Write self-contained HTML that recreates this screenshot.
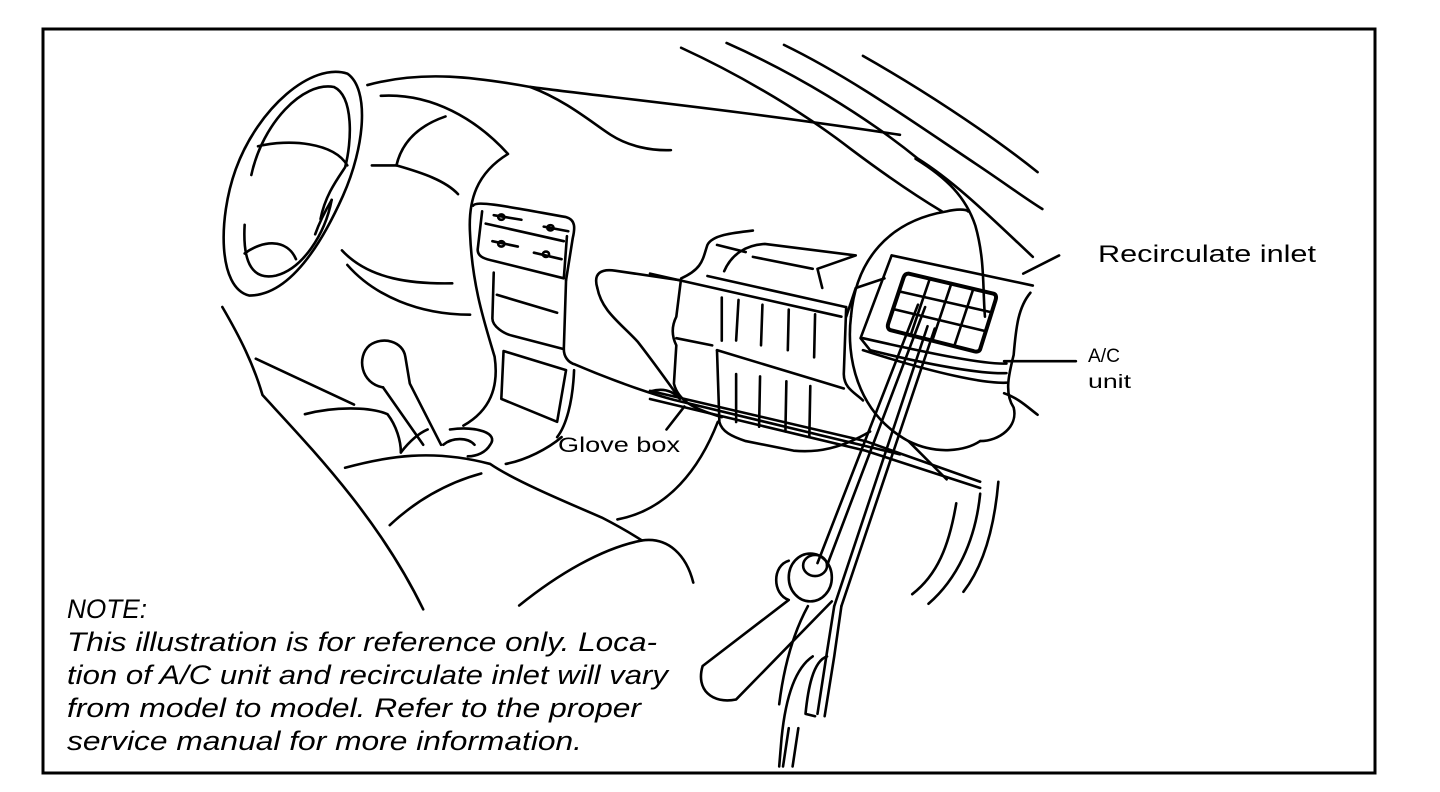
<!DOCTYPE html>
<html><head><meta charset="utf-8"><style>
html,body{margin:0;padding:0;background:#fff;}
svg{display:block;}
text{font-family:"Liberation Sans",Arial,sans-serif;fill:#000;}
</style></head><body>
<svg width="1440" height="792" viewBox="0 0 1440 792" xmlns="http://www.w3.org/2000/svg">
<rect x="0" y="0" width="1440" height="792" fill="#fff"/>
<rect x="43" y="29" width="1332" height="744" fill="none" stroke="#000" stroke-width="3"/>

<g transform="translate(200,20) scale(0.4464,0.3827)" fill="none" stroke="#000" stroke-width="2.6" stroke-linecap="round" stroke-linejoin="round">
<path vector-effect="non-scaling-stroke" d="M110,720 C40,700 40,520 80,390 C130,230 250,110 330,140 C380,180 370,330 320,460 C270,590 200,720 110,720 Z"/>
<path vector-effect="non-scaling-stroke" d="M115,405 C140,270 230,160 300,175 C345,200 340,320 325,385 C305,420 280,460 270,520"/>
<path vector-effect="non-scaling-stroke" d="M100,535 C95,640 120,680 170,668 C230,650 280,560 295,470"/>
<path vector-effect="non-scaling-stroke" d="M130,330 C200,310 300,320 330,380"/>
<path vector-effect="non-scaling-stroke" d="M100,610 C140,575 195,570 215,625"/>
<path vector-effect="non-scaling-stroke" d="M258,560 C270,520 285,490 295,470"/>
<path vector-effect="non-scaling-stroke" d="M375,170 C500,130 620,150 740,175 C900,200 1200,235 1568,300"/>
<path vector-effect="non-scaling-stroke" d="M740,175 C820,210 880,270 920,300 C960,330 1010,342 1055,340"/>
<path vector-effect="non-scaling-stroke" d="M405,198 C520,190 620,260 690,350 C620,400 600,470 605,560 C610,700 640,800 660,880 C670,960 650,1020 590,1060"/>
<path vector-effect="non-scaling-stroke" d="M550,252 C480,280 450,330 440,380"/>
<path vector-effect="non-scaling-stroke" d="M385,380 L440,380 C500,400 550,420 578,455"/>
<path vector-effect="non-scaling-stroke" d="M318,602 C380,680 480,690 565,688"/>
<path vector-effect="non-scaling-stroke" d="M330,640 C390,720 490,770 605,770"/>
<path vector-effect="non-scaling-stroke" d="M612,485 C620,470 700,490 820,515 C842,522 840,545 835,570 L820,680"/>
<path vector-effect="non-scaling-stroke" d="M632,500 L622,600 C622,620 640,625 660,630 L815,675 L822,565"/>
<path vector-effect="non-scaling-stroke" d="M640,532 L815,578"/>
<path vector-effect="non-scaling-stroke" d="M658,510 L720,522 M770,540 L825,552 M655,578 L712,592 M748,608 L810,625"/>
<circle vector-effect="non-scaling-stroke" cx="675" cy="515" r="7"/>
<circle vector-effect="non-scaling-stroke" cx="785" cy="543" r="7"/>
<circle vector-effect="non-scaling-stroke" cx="675" cy="585" r="7"/>
<circle vector-effect="non-scaling-stroke" cx="775" cy="612" r="7"/>
<path vector-effect="non-scaling-stroke" d="M658,660 L655,780 C655,800 680,820 700,825 L815,860 L820,680"/>
<path vector-effect="non-scaling-stroke" d="M665,718 L800,765"/>
<path vector-effect="non-scaling-stroke" d="M680,865 L675,990 L800,1050 L820,915 Z"/>
<path vector-effect="non-scaling-stroke" d="M838,915 C835,1000 820,1060 800,1090"/>
<path vector-effect="non-scaling-stroke" d="M815,860 C815,880 825,895 840,900 C900,930 1000,975 1070,995 L1568,1135"/>
<path vector-effect="non-scaling-stroke" d="M410,960 C360,950 350,880 380,850 C410,825 455,840 460,880 L470,950 L540,1110"/>
<path vector-effect="non-scaling-stroke" d="M410,960 L500,1110"/>
<path vector-effect="non-scaling-stroke" d="M450,1130 C470,1100 490,1080 510,1070"/>
<path vector-effect="non-scaling-stroke" d="M560,1070 C620,1060 670,1080 650,1110 C640,1130 620,1140 600,1140"/>
<path vector-effect="non-scaling-stroke" d="M545,1110 C565,1090 600,1090 615,1110"/>
<path vector-effect="non-scaling-stroke" d="M325,1170 C420,1140 520,1120 650,1160 C700,1200 800,1250 900,1300 C950,1330 990,1360 990,1360 C1050,1350 1090,1400 1105,1470"/>
<path vector-effect="non-scaling-stroke" d="M715,1530 C800,1450 900,1380 990,1360"/>
<path vector-effect="non-scaling-stroke" d="M425,1320 C480,1260 550,1210 630,1185"/>
<path vector-effect="non-scaling-stroke" d="M235,1030 C300,1010 380,1010 420,1030 C440,1060 450,1100 450,1130"/>
<path vector-effect="non-scaling-stroke" d="M125,885 L345,1005"/>
<path vector-effect="non-scaling-stroke" d="M50,750 C90,830 120,900 140,980 C250,1120 400,1300 500,1540"/>
<path vector-effect="non-scaling-stroke" d="M685,1160 C730,1150 780,1120 810,1090"/>
<path vector-effect="non-scaling-stroke" d="M1045,1070 L1085,1010"/>
<path vector-effect="non-scaling-stroke" d="M935,1305 C1050,1280 1120,1170 1160,1050"/>
<path vector-effect="non-scaling-stroke" d="M890,700 C880,660 900,650 930,655 L1075,680"/>
<path vector-effect="non-scaling-stroke" d="M890,700 C900,760 940,790 980,840 C1020,900 1050,950 1075,990"/>
<path vector-effect="non-scaling-stroke" d="M1010,970 C1040,960 1060,970 1075,990"/>
</g>

<g transform="translate(650,20) scale(0.4785)" fill="none" stroke="#000" stroke-width="2.6" stroke-linecap="round" stroke-linejoin="round">
<path vector-effect="non-scaling-stroke" d="M65,58 C200,120 330,200 420,270 C500,330 560,370 610,400"/>
<path vector-effect="non-scaling-stroke" d="M160,48 C300,110 450,200 560,290 C640,340 720,420 800,495"/>
<path vector-effect="non-scaling-stroke" d="M280,52 C420,120 560,220 680,300 C740,340 780,370 820,395"/>
<path vector-effect="non-scaling-stroke" d="M445,75 C560,140 700,230 810,318"/>
<path vector-effect="non-scaling-stroke" d="M555,290 C620,330 660,370 680,430 C700,500 695,560 700,620"/>
<path vector-effect="non-scaling-stroke" d="M420,620 C430,500 500,420 620,400 C640,395 660,395 665,400"/>
<path vector-effect="non-scaling-stroke" d="M420,620 C410,700 430,820 540,880 C600,910 660,900 690,880"/>
<path vector-effect="non-scaling-stroke" d="M795,570 C770,600 765,640 760,700 C750,740 740,780 760,810 C770,850 730,880 690,880"/>
<path vector-effect="non-scaling-stroke" d="M740,780 C770,790 790,810 810,825"/>
<path vector-effect="non-scaling-stroke" d="M855,492 L780,530"/>
<path vector-effect="non-scaling-stroke" d="M890,713 L740,713"/>
<path vector-effect="non-scaling-stroke" d="M728,965 C718,1080 690,1150 655,1195"/>
<path vector-effect="non-scaling-stroke" d="M690,990 C680,1090 640,1170 582,1220"/>
<path vector-effect="non-scaling-stroke" d="M640,1010 C625,1100 600,1160 548,1200"/>
<path vector-effect="non-scaling-stroke" d="M505,492 L800,555"/>
<path vector-effect="non-scaling-stroke" d="M505,492 L440,665 L460,690"/>
<path vector-effect="non-scaling-stroke" d="M490,540 L430,560 L410,620"/>
<path vector-effect="non-scaling-stroke" d="M540,530 L718,572 C724,574 724,580 722,586 L690,688 C688,693 682,694 676,692 L502,648 C497,646 496,640 498,634 L530,538 C532,532 536,530 540,530 Z" stroke-width="4"/>
<path vector-effect="non-scaling-stroke" d="M524,568 L710,610 M512,605 L700,650"/>
<path vector-effect="non-scaling-stroke" d="M585,540 L545,658 M630,550 L590,670 M676,561 L636,681"/>
<path vector-effect="non-scaling-stroke" d="M445,665 C600,700 700,720 745,718"/>
<path vector-effect="non-scaling-stroke" d="M445,690 C600,740 700,760 745,758"/>
<path vector-effect="non-scaling-stroke" d="M460,690 C600,725 700,740 745,738"/>
<path vector-effect="non-scaling-stroke" d="M215,440 C170,445 130,450 120,470 C110,500 110,520 65,540 L55,620 C45,640 45,660 55,680 L50,760 C60,800 100,815 150,830"/>
<path vector-effect="non-scaling-stroke" d="M140,470 L200,485"/>
<path vector-effect="non-scaling-stroke" d="M0,530 L400,620"/>
<path vector-effect="non-scaling-stroke" d="M120,535 L410,600"/>
<path vector-effect="non-scaling-stroke" d="M155,525 C170,490 200,470 240,468 L430,492 L350,520 L360,560"/>
<path vector-effect="non-scaling-stroke" d="M215,495 L340,520"/>
<path vector-effect="non-scaling-stroke" d="M410,600 L405,740 C405,770 430,780 445,795"/>
<path vector-effect="non-scaling-stroke" d="M150,580 L150,670 M185,585 L180,670 M235,595 L232,680 M290,605 L288,690 M345,615 L343,705"/>
<path vector-effect="non-scaling-stroke" d="M55,665 L130,680"/>
<path vector-effect="non-scaling-stroke" d="M140,690 L405,770"/>
<path vector-effect="non-scaling-stroke" d="M140,690 L145,840 C150,860 170,870 200,880 L300,900 C350,905 400,895 460,860"/>
<path vector-effect="non-scaling-stroke" d="M180,740 L180,840 M230,745 L228,850 M285,755 L283,860 M335,765 L333,870"/>
<path vector-effect="non-scaling-stroke" d="M0,775 L450,880 L690,965"/>
<path vector-effect="non-scaling-stroke" d="M0,792 L450,900 L690,978"/>
<path vector-effect="non-scaling-stroke" d="M540,880 L620,960"/>
<path vector-effect="non-scaling-stroke" d="M560,595 L350,1135"/>
<path vector-effect="non-scaling-stroke" d="M575,600 L370,1140"/>
<path vector-effect="non-scaling-stroke" d="M580,640 L385,1225 M595,645 L400,1225"/>
<path vector-effect="non-scaling-stroke" d="M385,1225 L370,1320 L350,1450 M400,1225 L385,1330 L365,1455"/>
<path vector-effect="non-scaling-stroke" d="M370,1330 C340,1340 330,1400 325,1450 L345,1455"/>
<path vector-effect="non-scaling-stroke" d="M340,1330 C310,1350 285,1400 275,1500 L270,1560"/>
<path vector-effect="non-scaling-stroke" d="M290,1480 L278,1560 M310,1480 L298,1560"/>
<path vector-effect="non-scaling-stroke" d="M330,1225 C300,1280 280,1350 270,1430"/>
<path vector-effect="non-scaling-stroke" d="M290,1130 C255,1140 255,1200 290,1212 L110,1350 C95,1400 130,1430 180,1420 L380,1215"/>
<ellipse vector-effect="non-scaling-stroke" cx="335" cy="1165" rx="45" ry="50"/>
<ellipse vector-effect="non-scaling-stroke" cx="345" cy="1140" rx="25" ry="22"/>
</g>

<text x="1098" y="262" font-size="24" textLength="218" lengthAdjust="spacingAndGlyphs">Recirculate inlet</text>
<text x="1088" y="362" font-size="19" textLength="32" lengthAdjust="spacingAndGlyphs">A/C</text>
<text x="1088" y="388" font-size="19" textLength="43" lengthAdjust="spacingAndGlyphs">unit</text>
<text x="558" y="452" font-size="21" textLength="122" lengthAdjust="spacingAndGlyphs">Glove box</text>

<g font-style="italic" font-size="27">
<text x="67" y="618" textLength="80" lengthAdjust="spacingAndGlyphs">NOTE:</text>
<text x="67" y="651" textLength="590" lengthAdjust="spacingAndGlyphs">This illustration is for reference only. Loca-</text>
<text x="67" y="684" textLength="601" lengthAdjust="spacingAndGlyphs">tion of A/C unit and recirculate inlet will vary</text>
<text x="67" y="717" textLength="574" lengthAdjust="spacingAndGlyphs">from model to model. Refer to the proper</text>
<text x="67" y="750" textLength="515" lengthAdjust="spacingAndGlyphs">service manual for more information.</text>
</g>
</svg>
</body></html>
